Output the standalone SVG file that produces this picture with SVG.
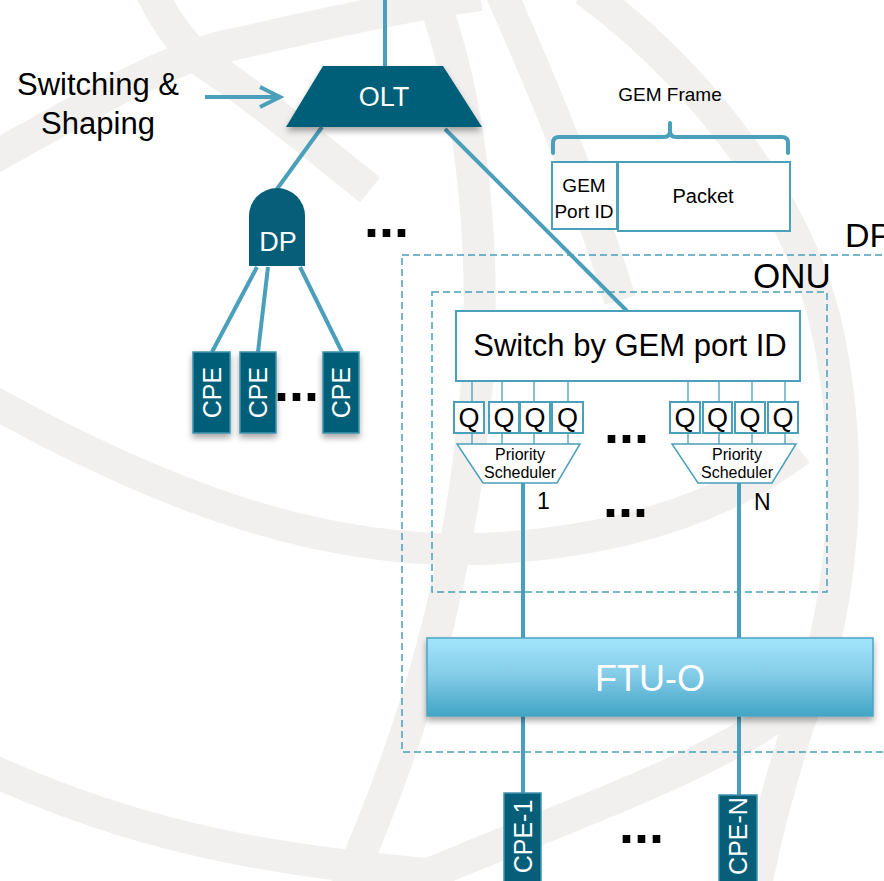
<svg xmlns="http://www.w3.org/2000/svg" width="884" height="881" viewBox="0 0 884 881">
  <defs>
    <style>
      .band{fill:none;stroke:#f1f0ee;stroke-width:32}
      .wire{fill:none;stroke:#4a9fba;stroke-width:4}
      .thin{fill:none;stroke:#4a9fba;stroke-width:1.3}
      .dash{fill:none;stroke:#4a9fba;stroke-width:1.5;stroke-dasharray:7 4}
      .dark{fill:#065e78;stroke:#3f93ad;stroke-width:1.5}
      .box{fill:#fff;stroke:#4a9fba;stroke-width:2}
      text{font-family:"Liberation Sans",Arial,sans-serif}
      .w{fill:#fff}
      .k{fill:#000}
      .dots{font-weight:bold;font-size:54px;fill:#000}
    </style>
    <linearGradient id="ftuGrad" x1="0" y1="0" x2="0" y2="1">
      <stop offset="0" stop-color="#a2e5fc"/>
      <stop offset="0.45" stop-color="#86cde9"/>
      <stop offset="1" stop-color="#41a5c5"/>
    </linearGradient>
    <filter id="shadow" x="-20%" y="-20%" width="140%" height="160%">
      <feDropShadow dx="0" dy="4" stdDeviation="3" flood-color="#000" flood-opacity="0.35"/>
    </filter>
  </defs>

  <rect width="884" height="881" fill="#fff"/>

  <!-- faint globe pattern in the background -->
  <g id="background">
    <path class="band" d="M -20,165 C 80,110 160,60 230,45 C 300,30 380,10 480,-5"/>
    <path class="band" d="M 150,-10 C 170,30 190,55 215,70 C 260,100 320,150 370,190"/>
    <path class="band" d="M 430,-10 C 480,120 490,300 470,450 C 455,580 420,720 345,890"/>
    <path class="band" d="M 500,-10 C 540,80 590,200 620,300"/>
    <path class="band" d="M 585,-10 C 680,60 790,180 825,320 C 860,470 840,620 800,720 C 780,780 765,840 755,890"/>
    <path class="band" d="M -20,395 C 150,490 320,560 500,548 C 620,540 720,510 800,450"/>
    <path class="band" d="M 380,895 C 480,850 620,800 700,760 C 750,735 790,710 810,690"/>
    <path class="band" d="M -20,765 C 120,830 250,860 440,875"/>
  </g>

  <!-- dashed enclosures -->
  <g id="dp-enclosure">
    <rect class="dash" x="402" y="255" width="520" height="497"/>
    <text class="k" x="845" y="247" font-size="34">DP</text>
  </g>
  <g id="onu-enclosure">
    <rect class="dash" x="432" y="292" width="395" height="300"/>
    <text class="k" x="753" y="288" font-size="35">ONU</text>
  </g>

  <!-- connectors -->
  <g id="connectors">
    <line class="wire" x1="385" y1="0" x2="385" y2="66"/>
    <line class="wire" x1="205" y1="97" x2="279" y2="97"/>
    <polyline class="wire" points="260,87 280,97 260,107"/>
    <line class="wire" x1="322" y1="127" x2="277" y2="189"/>
    <line class="wire" x1="445" y1="129" x2="627" y2="311"/>
    <line class="wire" x1="257" y1="267" x2="212" y2="352"/>
    <line class="wire" x1="268" y1="267" x2="258" y2="352"/>
    <line class="wire" x1="300" y1="267" x2="342" y2="352"/>
    <!-- switch to queues to schedulers -->
    <path class="thin" d="M472,381V402 M502,381V402 M534,381V402 M568,381V402 M688,381V402 M719,381V402 M752,381V402 M785,381V402"/>
    <path class="thin" d="M472,433V444 M502,433V444 M534,433V444 M568,433V444 M688,433V444 M719,433V444 M752,433V444 M785,433V444"/>
    <line class="wire" x1="523" y1="483" x2="523" y2="638"/>
    <line class="wire" x1="739" y1="483" x2="739" y2="638"/>
    <line class="wire" x1="523" y1="716" x2="523" y2="794"/>
    <line class="wire" x1="739" y1="716" x2="739" y2="796"/>
  </g>

  <!-- label for the traffic entering the OLT -->
  <g id="switching-label">
    <text class="k" x="98" y="95" font-size="31" text-anchor="middle">Switching &amp;</text>
    <text class="k" x="98" y="134" font-size="31" text-anchor="middle">Shaping</text>
  </g>

  <g id="olt">
    <polygon points="323,66 443,66 482,127 286,127" fill="#065e78" filter="url(#shadow)"/>
    <text class="w" x="384" y="106" font-size="27" text-anchor="middle">OLT</text>
  </g>

  <g id="dp">
    <path d="M249,266 V216 A28,28 0 0 1 305,216 V266 Z" fill="#065e78"/>
    <text class="w" x="278" y="251" font-size="27" text-anchor="middle">DP</text>
  </g>

  <g id="cpe-a">
    <rect class="dark" x="193" y="352" width="37" height="81" filter="url(#shadow)"/>
    <text class="w" font-size="25" text-anchor="middle" transform="translate(211.5,392.5) rotate(-90)" y="9">CPE</text>
  </g>
  <g id="cpe-b">
    <rect class="dark" x="240" y="352" width="36" height="81" filter="url(#shadow)"/>
    <text class="w" font-size="25" text-anchor="middle" transform="translate(258,392.5) rotate(-90)" y="9">CPE</text>
  </g>
  <g id="cpe-c">
    <rect class="dark" x="323" y="352" width="36" height="81" filter="url(#shadow)"/>
    <text class="w" font-size="25" text-anchor="middle" transform="translate(341,392.5) rotate(-90)" y="9">CPE</text>
  </g>

  <!-- ellipses -->
  <g id="ellipses">
    <text class="dots" x="364" y="237">...</text>
    <text class="dots" x="274" y="401">...</text>
    <text class="dots" x="604" y="443">...</text>
    <text class="dots" x="603" y="517">...</text>
    <text class="dots" x="619" y="843">...</text>
  </g>

  <g id="gem-frame">
    <text class="k" x="670" y="101" font-size="19" text-anchor="middle">GEM Frame</text>
    <path d="M553,153 V143 Q553,137 559,137 H664 Q670,137 670,131 V123 V131 Q670,137 676,137 H782 Q788,137 788,143 V153" fill="none" stroke="#4a9fba" stroke-width="4" stroke-linecap="round" stroke-linejoin="round"/>
    <rect class="box" x="552" y="162" width="65" height="67"/>
    <rect class="box" x="618" y="162" width="172" height="69"/>
    <text class="k" x="584" y="192" font-size="19" text-anchor="middle">GEM</text>
    <text class="k" x="584" y="218" font-size="19" text-anchor="middle">Port ID</text>
    <text class="k" x="703" y="203" font-size="20" text-anchor="middle">Packet</text>
  </g>

  <g id="switch">
    <rect class="box" x="456" y="311" width="344" height="70"/>
    <text class="k" x="630" y="356" font-size="31" text-anchor="middle">Switch by GEM port ID</text>
  </g>

  <g id="queues-1">
    <rect class="box" x="454" y="402" width="30" height="31"/>
    <rect class="box" x="489" y="402" width="30" height="31"/>
    <rect class="box" x="520" y="402" width="30" height="31"/>
    <rect class="box" x="552" y="402" width="31" height="31"/>
    <g class="k" font-size="27" text-anchor="middle">
      <text x="469" y="427">Q</text>
      <text x="504" y="427">Q</text>
      <text x="535" y="427">Q</text>
      <text x="567.5" y="427">Q</text>
    </g>
  </g>
  <g id="queues-n">
    <rect class="box" x="670" y="402" width="30" height="31"/>
    <rect class="box" x="703" y="402" width="29" height="31"/>
    <rect class="box" x="735" y="402" width="30" height="31"/>
    <rect class="box" x="768" y="402" width="30" height="31"/>
    <g class="k" font-size="27" text-anchor="middle">
      <text x="685" y="427">Q</text>
      <text x="717.5" y="427">Q</text>
      <text x="750" y="427">Q</text>
      <text x="783" y="427">Q</text>
    </g>
  </g>

  <g id="scheduler-1">
    <polygon points="457,444 580,444 557,483 483,483" fill="#fff" stroke="#4a9fba" stroke-width="1.5"/>
    <text class="k" x="520" y="460" font-size="16" text-anchor="middle">Priority</text>
    <text class="k" x="520" y="478" font-size="16" text-anchor="middle">Scheduler</text>
    <text class="k" x="537" y="509" font-size="23">1</text>
  </g>
  <g id="scheduler-n">
    <polygon points="672,444 796,444 772,483 698,483" fill="#fff" stroke="#4a9fba" stroke-width="1.5"/>
    <text class="k" x="737" y="460" font-size="16" text-anchor="middle">Priority</text>
    <text class="k" x="737" y="478" font-size="16" text-anchor="middle">Scheduler</text>
    <text class="k" x="754" y="510" font-size="23">N</text>
  </g>

  <g id="ftu-o">
    <rect x="427" y="638" width="446" height="78" fill="url(#ftuGrad)" stroke="#4aa5c4" stroke-width="1.5" filter="url(#shadow)"/>
    <text class="w" x="650" y="691" font-size="36" text-anchor="middle">FTU-O</text>
  </g>

  <g id="cpe-1">
    <rect class="dark" x="504" y="793" width="37" height="100"/>
    <text class="w" font-size="25" text-anchor="middle" transform="translate(522.5,836.5) rotate(-90)" y="9">CPE-1</text>
  </g>
  <g id="cpe-n">
    <rect class="dark" x="719" y="795" width="38" height="100"/>
    <text class="w" font-size="25" text-anchor="middle" transform="translate(738,836) rotate(-90)" y="9">CPE-N</text>
  </g>
</svg>
